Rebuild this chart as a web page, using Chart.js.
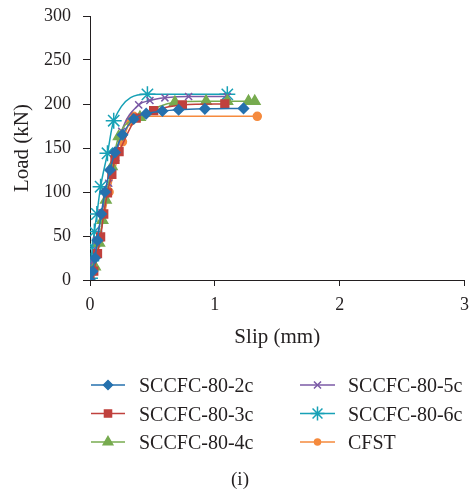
<!DOCTYPE html>
<html><head><meta charset="utf-8">
<script src="https://cdn.jsdelivr.net/npm/chart.js@4/dist/chart.umd.min.js"></script>
<style>
body{margin:0;background:#fff;width:474px;height:496px;overflow:hidden;position:relative;font-family:"Liberation Serif",serif;color:#231f20}
#wrap{position:absolute;left:0;top:0;width:474px;height:496px}
.lg{position:absolute;font-size:20px;line-height:20px;white-space:nowrap}
</style></head><body>
<div id="wrap"><canvas id="c" width="474" height="496"></canvas></div>
<div id="legend"></div>
<div class="lg" style="left:0;width:480px;text-align:center;top:469px;font-size:19px;line-height:19px">(i)</div>
<script>
// ---- data ----
const seriesNames = ['SCCFC-80-2c','SCCFC-80-3c','SCCFC-80-4c','SCCFC-80-5c','SCCFC-80-6c','CFST'];
const xTicks = [0,1,2,3];
const yTicks = [0,50,100,150,200,250,300];

const slip2c = [0,0.02,0.04,0.06,0.09,0.12,0.16,0.2,0.26,0.35,0.45,0.58,0.71,0.92,1.23];
const load2c = [0,10,25,45,75,100,125,145,165,183,189,192,193.5,194.5,195];
const slip3c = [0,0.03,0.06,0.085,0.11,0.14,0.175,0.2,0.233,0.37,0.51,0.74,1.08];
const load3c = [0,10,30,49,75,99,120,137,146,184,192.5,199,200];
const slip4c = [0,0.04,0.074,0.1,0.127,0.175,0.23,0.4,0.68,0.93,1.1,1.27,1.32];
const load4c = [0,15,42,68,91,129,163,185,202,203,203,203,203];
const slip5c = [0,0.02,0.053,0.095,0.15,0.206,0.254,0.39,0.48,0.6,0.79,1.1];
const load5c = [0,21,45,76,110,139,169,199,204,207,208.5,208.5];
const slip6c = [0,0.005,0.01,0.02,0.035,0.055,0.085,0.14,0.19,0.46,1.1];
const load6c = [2,12,22,38,55,75,106,144,181,211,211];
const slipCFST = [0,0.074,0.153,0.26,0.32,0.35,1.34];
const loadCFST = [0,46,100,157,180,186,186];

const slips = [slip2c,slip3c,slip4c,slip5c,slip6c,slipCFST];
const loads = [load2c,load3c,load4c,load5c,load6c,loadCFST];

// ---- styles ----
const colors = ['#2571ae','#c0413d','#77ab4f','#7b5aa6','#17a1b6','#f58a3d'];
const pstyles = ['rectRot','rect','triangle','crossRot','star','circle'];
const pradius = [5,5.5,6,5,8,4];
const lgradius = [4.5,5,5.5,5,7,3];
const FONT = '"Liberation Serif", serif';
const TXT = '#231f20';

const datasets = seriesNames.map((n,i)=>({
  label:n,
  data: slips[i].map((x,j)=>({x:x,y:loads[i][j]})),
  borderColor: colors[i], backgroundColor: colors[i],
  borderWidth: 1.5,
  pointStyle: pstyles[i], pointRadius: pradius[i],
  pointBorderColor: colors[i], pointBackgroundColor: colors[i],
  pointBorderWidth: 1.5,
  cubicInterpolationMode: 'monotone',
  fill:false
}));

// legend layout (column-major like the reference)
const lgPos = [[0,0],[0,1],[0,2],[1,0],[1,1],[1,2]];
const colX = [[91,125,139],[300,335,348]]; // line start, line end, text start
const rowY = [385,413.5,442];

const legendPlugin = {
  id:'lineLegend',
  afterDraw(chart){
    const ctx = chart.ctx;
    seriesNames.forEach((n,i)=>{
      const [c,r] = lgPos[i];
      const [x0,x1] = colX[c];
      const y = rowY[r];
      ctx.save();
      ctx.strokeStyle = colors[i]; ctx.fillStyle = colors[i];
      ctx.lineWidth = 1.5;
      ctx.beginPath(); ctx.moveTo(x0,y); ctx.lineTo(x1,y); ctx.stroke();
      Chart.helpers.drawPoint(ctx,{pointStyle:pstyles[i],radius:lgradius[i],rotation:0,borderWidth:1.5},(x0+x1)/2,y);
      ctx.restore();
    });
  }
};

const lg = document.getElementById('legend');
seriesNames.forEach((n,i)=>{
  const [c,r] = lgPos[i];
  const d = document.createElement('div');
  d.className='lg';
  d.textContent = n;
  d.style.left = colX[c][2]+'px';
  d.style.top = (rowY[r]-10)+'px';
  lg.appendChild(d);
});

new Chart(document.getElementById('c'),{
  type:'line',
  data:{datasets},
  plugins:[legendPlugin],
  options:{
    responsive:false, animation:false,
    layout:{padding:{left:0,right:8,top:16,bottom:146}},
    plugins:{legend:{display:false},tooltip:{enabled:false}},
    scales:{
      x:{type:'linear',min:0,max:3,
        afterBuildTicks(s){ s.ticks = xTicks.map(v=>({value:v})); },
        ticks:{font:{family:FONT,size:18},color:TXT,padding:8},
        grid:{drawOnChartArea:false,drawTicks:true,tickLength:6,color:TXT,lineWidth:1},
        border:{color:TXT,width:1},
        title:{display:true,text:'Slip (mm)',font:{family:FONT,size:21},color:TXT,padding:{top:0,bottom:0}},
        afterFit(s){ s.height = 70; s.paddingLeft = 0; s.paddingRight = 0; }
      },
      y:{type:'linear',min:0,max:300,
        afterBuildTicks(s){ s.ticks = yTicks.map(v=>({value:v})); },
        ticks:{font:{family:FONT,size:18},color:TXT,padding:12},
        grid:{drawOnChartArea:false,drawTicks:true,tickLength:7,color:TXT,lineWidth:1},
        border:{color:TXT,width:1},
        title:{display:true,text:'Load (kN)',font:{family:FONT,size:21},color:TXT,padding:{top:10,bottom:0}},
        afterFit(s){ s.width = 90; s.paddingTop = 0; s.paddingBottom = 0; }
      }
    }
  }
});
</script>
</body></html>
